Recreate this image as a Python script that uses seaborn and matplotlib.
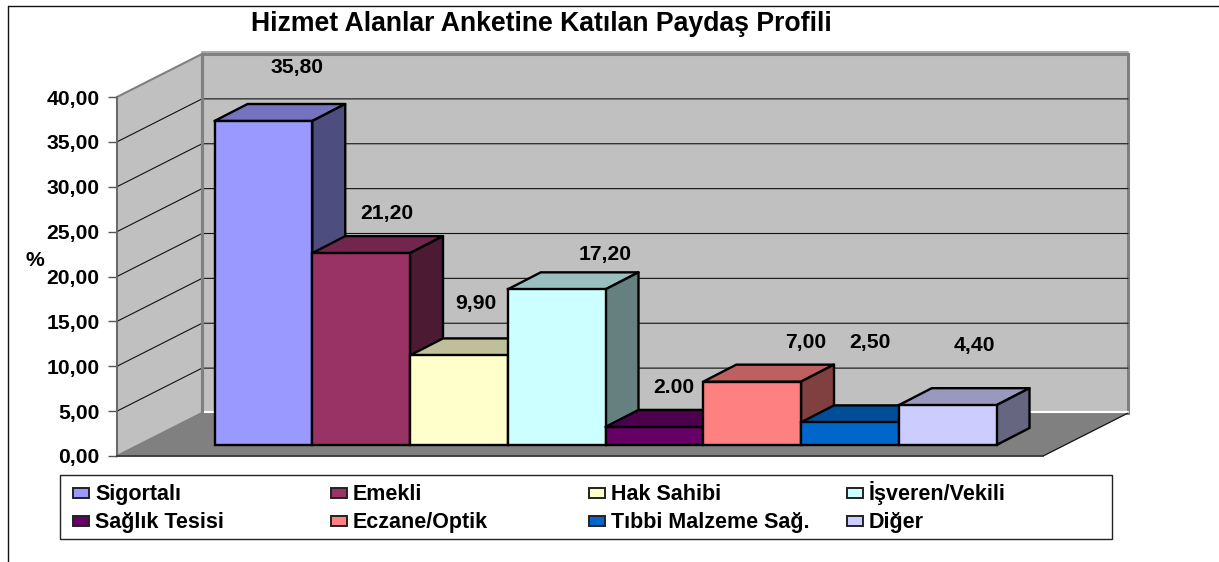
import numpy as np
import seaborn as sns
import matplotlib.pyplot as plt
from matplotlib.colors import to_rgb
from matplotlib.lines import Line2D
from matplotlib.patches import Rectangle

categories = ["Sigortalı", "Emekli", "Hak Sahibi", "İşveren/Vekili",
              "Sağlık Tesisi", "Eczane/Optik", "Tıbbi Malzeme Sağ.", "Diğer"]
values = [35.8, 21.2, 9.9, 17.2, 2.0, 7.0, 2.5, 4.4]
value_labels = ["35,80", "21,20", "9,90", "17,20", "2.00", "7,00", "2,50", "4,40"]
colors = ["#9999FF", "#993366", "#FFFFCC", "#CCFFFF",
          "#660066", "#FF8080", "#0066CC", "#CCCCFF"]
y_ticks = [0, 5, 10, 15, 20, 25, 30, 35, 40]

# label offsets from the bar top centre, in pixels
label_offsets = [(34, 54), (26, 40), (17, 52), (48, 35), (19, 39), (54, 39), (20, 80), (27, 60)]

W, H = 1219, 562
FS = 15.2


def box(x0, y0, x1, y1):
    # pixel box (top-left origin) to figure fractions
    return [x0 / W, 1 - y1 / H, (x1 - x0) / W, (y1 - y0) / H]


def shade(color, k):
    return tuple(c * k for c in to_rgb(color))


sns.set_style("white")
plt.rcParams["font.family"] = ["Liberation Sans", "DejaVu Sans"]
plt.rcParams["font.weight"] = "bold"
plt.rcParams["text.color"] = "black"
plt.rcParams["ytick.labelcolor"] = "black"
plt.rcParams["axes.labelcolor"] = "black"

fig = plt.figure(figsize=(W / 100, H / 100), dpi=100)

# walls and floor
ax = fig.add_axes(box(117, 97, 1043, 456), facecolor="none")
ax.set_xlim(0, 1)
ax.set_ylim(0, 40)
wall_dx = 85 / 926
wall_dy = 43 / 8.975

ax.fill([wall_dx, 1 + wall_dx, 1 + wall_dx, wall_dx], [wall_dy, wall_dy, 40 + wall_dy, 40 + wall_dy],
        color="#C0C0C0", ec="#808080", lw=2.2, clip_on=False, zorder=1)
ax.plot([wall_dx, 1 + wall_dx], [40 + wall_dy + 0.25] * 2, color="#ABABAB", lw=1.5, clip_on=False, zorder=1)
ax.fill([0, wall_dx, wall_dx, 0], [0, wall_dy, 40 + wall_dy, 40], color="#C0C0C0",
        ec="#808080", lw=1.5, clip_on=False, zorder=1.1)
ax.fill([0, 1, 1 + wall_dx, wall_dx], [0, 0, wall_dy, wall_dy], color="#808080", clip_on=False, zorder=1.2)

for v in y_ticks[1:-1]:
    ax.plot([0, wall_dx, 1 + wall_dx], [v, v + wall_dy, v + wall_dy], color="#111111", lw=0.8,
            clip_on=False, zorder=1.3)
ax.plot([wall_dx, 1 + wall_dx], [wall_dy + 0.1] * 2, color="white", lw=1.5, clip_on=False, zorder=1.3)
ax.plot([1, 1 + wall_dx], [0, wall_dy], color="#111111", lw=0.8, clip_on=False, zorder=1.3)
ax.plot([wall_dx, wall_dx], [wall_dy, 40 + wall_dy], color="#808080", lw=2.2, clip_on=False, zorder=1.3)

ax.set_xticks([])
ax.set_yticks(y_ticks)
ax.set_yticklabels([f"{v:.2f}".replace(".", ",") for v in y_ticks], fontsize=FS, fontweight="bold")
ax.tick_params(axis="y", left=True, length=6.5, width=1, color="#555555", pad=6)
ax.set_ylabel("%", rotation=0, fontsize=FS, fontweight="bold", va="center", ha="center")
ax.yaxis.set_label_coords((35 - 117) / 926, (456 - 260) / 359)
for s in ["top", "right"]:
    ax.spines[s].set_visible(False)
ax.spines["left"].set_color("#666666")
ax.spines["left"].set_linewidth(1.2)
ax.spines["bottom"].set_color("#333333")
ax.spines["bottom"].set_linewidth(1.2)
ax.spines["left"].set_zorder(2)
ax.spines["bottom"].set_zorder(2)

# bars sit further in on the floor, so they get their own axes
ax_bar = fig.add_axes(box(214.5, 83, 996.5, 445), facecolor="none")
sns.barplot(x=categories, y=values, hue=categories, palette=colors, width=1, saturation=1,
            edgecolor="black", linewidth=1.7, legend=False, ax=ax_bar)
ax_bar.set_xlim(-0.5, 7.5)
ax_bar.set_ylim(0, 40)
ax_bar.axis("off")

bar_dx = 33 / 97.75
bar_dy = 17 / 9.05
for i, (val, col, txt, off) in enumerate(zip(values, colors, value_labels, label_offsets)):
    left, right = i - 0.5, i + 0.5
    z = 10 + i
    ax_bar.fill([left, right, right + bar_dx, left + bar_dx], [val, val, val + bar_dy, val + bar_dy],
                facecolor=shade(col, 0.75), edgecolor="black", lw=1.7, joinstyle="round", clip_on=False, zorder=z)
    ax_bar.fill([right, right + bar_dx, right + bar_dx, right], [0, bar_dy, val + bar_dy, val],
                facecolor=shade(col, 0.5), edgecolor="black", lw=1.7, joinstyle="round", clip_on=False, zorder=z)
    ax_bar.annotate(txt, (i, val), xytext=(off[0] * 0.72, off[1] * 0.72), textcoords="offset points",
                    ha="center", va="center", fontsize=FS, fontweight="bold", color="black", zorder=30)
for i, bar in enumerate(ax_bar.patches[:len(values)]):
    bar.set_zorder(10.5 + i)
    bar.set_clip_on(False)

fig.text(541 / W, 1 - 31 / H, "Hizmet Alanlar Anketine Katılan Paydaş Profili", ha="center", va="baseline",
         fontsize=19.2, fontweight="bold", color="black")

# legend drawn by hand, a matplotlib legend can't keep even columns here
x0, y0, bw, bh = box(60, 475, 1112, 539)
fig.add_artist(Rectangle((x0, y0), bw, bh, transform=fig.transFigure, facecolor="white",
                         edgecolor="#222222", lw=1.0))
for i, (name, col) in enumerate(zip(categories, colors)):
    row, column = divmod(i, 4)
    hx = 73 + 258 * column
    hy = 488 + 28 * row
    hb = box(hx, hy, hx + 16, hy + 10)
    fig.add_artist(Rectangle((hb[0], hb[1]), hb[2], hb[3], transform=fig.transFigure, facecolor=col,
                             edgecolor="#222222", lw=1.4))
    fig.text((hx + 22) / W, 1 - (hy + 12) / H, name, ha="left", va="baseline", fontsize=15.5,
             fontweight="bold", color="black")

# outer frame of the original picture
fig.add_artist(Line2D([8 / W, 8 / W], [0, 1 - 6 / H], color="#111111", lw=1))
fig.add_artist(Line2D([8 / W, 1], [1 - 6 / H, 1 - 6 / H], color="#111111", lw=1))

fig.savefig("out.png", dpi=100)
